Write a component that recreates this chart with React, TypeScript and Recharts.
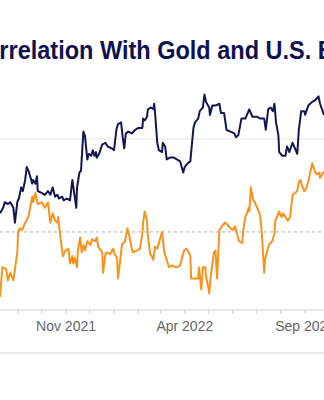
import React from "react";
import { LineChart, Line, XAxis, YAxis, ReferenceLine } from "recharts";

const navyDates = [
  "2021-08-09","2021-08-13","2021-08-15","2021-08-19","2021-08-22","2021-08-26","2021-08-28","2021-08-31",
  "2021-09-02","2021-09-05","2021-09-07","2021-09-10","2021-09-12","2021-09-15","2021-09-19","2021-09-20",
  "2021-09-23","2021-09-25","2021-09-26","2021-10-01","2021-10-05","2021-10-09","2021-10-12","2021-10-15",
  "2021-10-18","2021-10-21","2021-10-23","2021-10-27","2021-10-29","2021-11-02","2021-11-06","2021-11-09",
  "2021-11-10","2021-11-14","2021-11-15","2021-11-18","2021-11-20","2021-11-23","2021-11-25","2021-11-28",
  "2021-11-30","2021-12-03","2021-12-05","2021-12-07","2021-12-09","2021-12-10","2021-12-13","2021-12-17",
  "2021-12-21","2021-12-24","2021-12-29","2022-01-01","2022-01-04","2022-01-06","2022-01-10","2022-01-12",
  "2022-01-14","2022-01-16","2022-01-19","2022-01-24","2022-01-28","2022-02-01","2022-02-06","2022-02-07",
  "2022-02-09","2022-02-12","2022-02-13","2022-02-17","2022-02-20","2022-02-21","2022-02-22","2022-02-25",
  "2022-02-27","2022-03-03","2022-03-04","2022-03-07","2022-03-09","2022-03-13","2022-03-18","2022-03-22",
  "2022-03-26","2022-03-30","2022-04-01","2022-04-05","2022-04-08","2022-04-12","2022-04-14","2022-04-18",
  "2022-04-20","2022-04-24","2022-04-26","2022-04-28","2022-05-02","2022-05-03","2022-05-06","2022-05-10",
  "2022-05-15","2022-05-17","2022-05-21","2022-05-24","2022-05-29","2022-06-03","2022-06-05","2022-06-08",
  "2022-06-12","2022-06-17","2022-06-22","2022-06-26","2022-07-02","2022-07-06","2022-07-11","2022-07-13",
  "2022-07-16","2022-07-19","2022-07-22","2022-07-24","2022-07-26","2022-07-29","2022-07-30","2022-08-03",
  "2022-08-07","2022-08-09","2022-08-12","2022-08-16","2022-08-19","2022-08-22","2022-08-24","2022-08-27",
  "2022-08-31","2022-09-01","2022-09-05","2022-09-10","2022-09-14","2022-09-18","2022-09-20","2022-09-25"
];
const navyValues = [
  0.10,0.13,0.16,0.15,0.16,0.13,0.05,0.16,
  0.18,0.24,0.22,0.28,0.35,0.32,0.26,0.28,
  0.26,0.30,0.22,0.21,0.20,0.22,0.20,0.24,
  0.19,0.20,0.18,0.19,0.17,0.18,0.17,0.28,
  0.25,0.13,0.24,0.32,0.33,0.54,0.52,0.39,
  0.42,0.41,0.44,0.41,0.43,0.40,0.42,0.47,
  0.48,0.46,0.45,0.44,0.55,0.58,0.59,0.51,
  0.45,0.53,0.54,0.53,0.55,0.56,0.56,0.61,
  0.60,0.62,0.66,0.67,0.66,0.69,0.65,0.48,
  0.44,0.43,0.48,0.46,0.39,0.40,0.40,0.39,
  0.38,0.32,0.35,0.37,0.38,0.56,0.59,0.61,
  0.65,0.67,0.74,0.70,0.67,0.63,0.68,0.68,
  0.69,0.64,0.64,0.55,0.54,0.53,0.51,0.52,
  0.61,0.61,0.66,0.62,0.62,0.61,0.61,0.55,
  0.66,0.67,0.65,0.69,0.59,0.52,0.43,0.41,
  0.41,0.46,0.43,0.48,0.45,0.42,0.55,0.65,
  0.65,0.63,0.68,0.70,0.71,0.73,0.69,0.63
];

const orangeDates = [
  "2021-08-09","2021-08-12","2021-08-17","2021-08-19","2021-08-22","2021-08-26","2021-08-28","2021-08-31",
  "2021-09-01","2021-09-03","2021-09-06","2021-09-10","2021-09-14","2021-09-19","2021-09-20","2021-09-23",
  "2021-09-25","2021-09-26","2021-10-01","2021-10-05","2021-10-09","2021-10-12","2021-10-15","2021-10-18",
  "2021-10-21","2021-10-22","2021-10-24","2021-10-27","2021-10-28","2021-10-31","2021-11-04","2021-11-06",
  "2021-11-09","2021-11-10","2021-11-12","2021-11-15","2021-11-16","2021-11-19","2021-11-21","2021-11-23",
  "2021-11-25","2021-11-28","2021-12-02","2021-12-04","2021-12-08","2021-12-10","2021-12-12","2021-12-17",
  "2021-12-18","2021-12-21","2021-12-23","2021-12-27","2021-12-31","2022-01-02","2022-01-05","2022-01-06",
  "2022-01-09","2022-01-11","2022-01-15","2022-01-18","2022-01-19","2022-01-21","2022-01-24","2022-01-25",
  "2022-01-30","2022-02-03","2022-02-06","2022-02-07","2022-02-09","2022-02-12","2022-02-13","2022-02-16",
  "2022-02-18","2022-02-20","2022-02-22","2022-02-25","2022-03-01","2022-03-03","2022-03-06","2022-03-09",
  "2022-03-12","2022-03-16","2022-03-20","2022-03-22","2022-03-26","2022-03-31","2022-04-03","2022-04-06",
  "2022-04-08","2022-04-09","2022-04-14","2022-04-18","2022-04-19","2022-04-22","2022-04-24","2022-04-27",
  "2022-04-28","2022-05-01","2022-05-02","2022-05-04","2022-05-08","2022-05-10","2022-05-12","2022-05-15",
  "2022-05-18","2022-05-22","2022-05-25","2022-05-29","2022-06-01","2022-06-04","2022-06-07","2022-06-09",
  "2022-06-13","2022-06-15","2022-06-17","2022-06-19","2022-06-21","2022-06-22","2022-06-23","2022-06-24",
  "2022-06-27","2022-06-29","2022-07-02","2022-07-05","2022-07-06","2022-07-08","2022-07-11","2022-07-12",
  "2022-07-15","2022-07-17","2022-07-21","2022-07-24","2022-07-25","2022-07-27","2022-07-30","2022-08-02",
  "2022-08-04","2022-08-07","2022-08-10","2022-08-13","2022-08-16","2022-08-19","2022-08-22","2022-08-24",
  "2022-08-26","2022-08-28","2022-08-31","2022-09-02","2022-09-05","2022-09-07","2022-09-10","2022-09-14",
  "2022-09-16","2022-09-19","2022-09-20","2022-09-24","2022-09-25"
];
const orangeValues = [
  -0.35,-0.19,-0.20,-0.26,-0.22,-0.26,-0.20,-0.11,
  0.00,0.02,0.01,0.05,0.08,0.19,0.16,0.21,
  0.17,0.15,0.16,0.13,0.16,0.05,0.10,0.06,
  0.05,0.08,0.00,-0.10,-0.13,-0.10,-0.09,-0.17,
  -0.13,-0.17,-0.14,-0.19,-0.10,-0.03,-0.11,-0.07,
  -0.10,-0.05,-0.07,-0.04,-0.05,-0.03,-0.08,-0.11,
  -0.22,-0.12,-0.11,-0.12,-0.09,-0.12,-0.14,-0.25,
  -0.15,-0.07,-0.05,0.02,0.00,-0.03,-0.10,-0.11,
  -0.10,-0.09,-0.01,0.05,0.11,0.06,-0.02,-0.12,
  -0.13,-0.15,-0.08,-0.09,-0.03,0.00,-0.11,-0.15,
  -0.19,-0.18,-0.19,-0.19,-0.18,-0.10,-0.09,-0.11,
  -0.13,-0.25,-0.25,-0.25,-0.19,-0.31,-0.19,-0.19,
  -0.24,-0.30,-0.33,-0.24,-0.11,-0.10,-0.25,0.01,
  0.03,0.05,0.04,0.02,0.01,0.03,-0.02,-0.05,
  -0.06,0.03,0.08,0.10,0.13,0.11,0.17,0.24,
  0.17,0.16,0.13,0.10,0.08,-0.01,-0.22,-0.15,
  -0.10,-0.07,-0.05,-0.01,0.06,0.08,0.11,0.08,
  0.10,0.08,0.06,0.08,0.20,0.21,0.22,0.27,
  0.28,0.25,0.22,0.23,0.27,0.31,0.37,0.32,
  0.31,0.32,0.29,0.32,0.32
];

const tickDates = [
  "2021-09-01","2021-10-01","2021-11-01","2021-12-01","2022-01-01","2022-02-01","2022-03-01",
  "2022-04-01","2022-05-01","2022-06-01","2022-07-01","2022-08-01","2022-09-01"
];
const tickLabelDates = ["2021-11-01","2022-04-01","2022-09-01"];
const tickLabels = ["Nov 2021","Apr 2022","Sep 2022"];

const startDate = "2021-08-09";
const endDate = "2022-09-25";
const yDomain = [-0.42, 0.85];
const gridValue = 0.5;
const zeroValue = 0;

const titleText = "Correlation With Gold and U.S. Bonds";

const navyData = navyDates.map((d, i) => ({ t: Date.parse(d), v: navyValues[i] }));
const orangeData = orangeDates.map((d, i) => ({ t: Date.parse(d), v: orangeValues[i] }));
const ticks = tickDates.map((d) => Date.parse(d));
const labelMap: Record<number, string> = {};
tickLabelDates.forEach((d, i) => { labelMap[Date.parse(d)] = tickLabels[i]; });

const FONT = "'Liberation Sans', Arial, Helvetica, sans-serif";

export default function App() {
  return (
    <div style={{ position: "absolute", left: 0, top: 0, width: 324, height: 400, background: "#fff", overflow: "hidden" }}>
      <LineChart width={324} height={400} margin={{ top: 74, right: 0, bottom: 60, left: 0 }}>
        <XAxis
          type="number"
          dataKey="t"
          domain={[Date.parse(startDate), Date.parse(endDate)]}
          ticks={ticks}
          tickFormatter={(v: number) => labelMap[v] || ""}
          height={30}
          interval={0}
          axisLine={{ stroke: "#d0d0d0", strokeWidth: 1 }}
          tickLine={{ stroke: "#d0d0d0", strokeWidth: 1 }}
          tickSize={4}
          tickMargin={7}
          tick={{ fill: "#666666", fontSize: 14, fontFamily: FONT }}
          allowDataOverflow
        />
        <YAxis hide type="number" domain={yDomain} allowDataOverflow />
        <ReferenceLine y={gridValue} stroke="#e6e6e6" strokeWidth={1} />
        <ReferenceLine y={zeroValue} stroke="#aaaaaa" strokeWidth={1} strokeDasharray="3 3" />
        <Line
          data={orangeData}
          dataKey="v"
          type="linear"
          stroke="#F7931A"
          strokeWidth={2}
          dot={false}
          activeDot={false}
          isAnimationActive={false}
          strokeLinejoin="round"
        />
        <Line
          data={navyData}
          dataKey="v"
          type="linear"
          stroke="#14174f"
          strokeWidth={2}
          dot={false}
          activeDot={false}
          isAnimationActive={false}
          strokeLinejoin="round"
        />
      </LineChart>
      <svg width={324} height={400} style={{ position: "absolute", left: 0, top: 0, pointerEvents: "none" }}>
        <text
          x={-32}
          y={59}
          textLength={423}
          lengthAdjust="spacingAndGlyphs"
          fontFamily={FONT}
          fontWeight="bold"
          fontSize={25}
          fill="#0e1250"
        >
          {titleText}
        </text>
        <line x1={0} x2={324} y1={353} y2={353} stroke="#d6d6d6" strokeWidth={1} />
      </svg>
    </div>
  );
}
